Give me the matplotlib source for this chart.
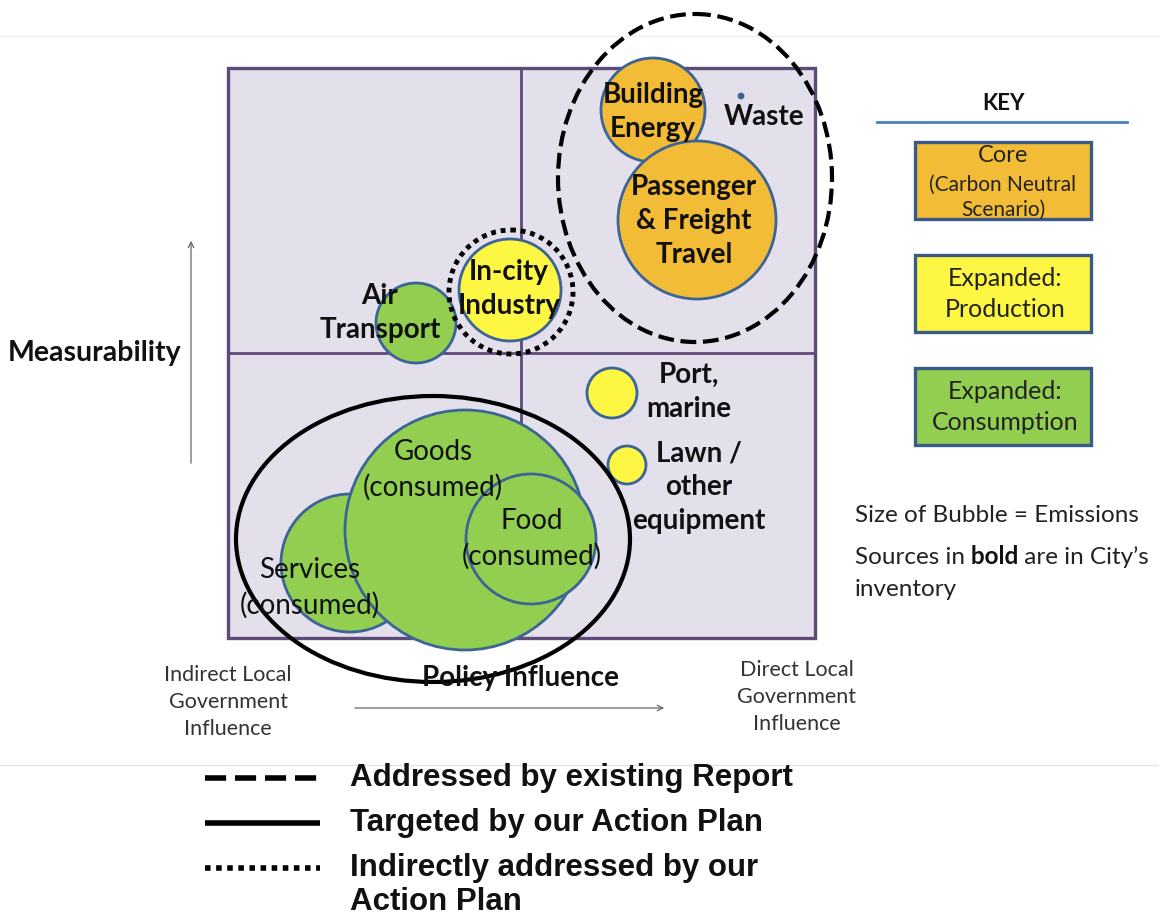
import matplotlib.pyplot as plt
from matplotlib.patches import Circle, Ellipse, Rectangle

plt.rcParams['font.family'] = ['Lato', 'DejaVu Sans']

# canvas is in pixel-like units (x right, y down)
W, H = 1159, 915

# bubbles: label, centre x, centre y, radius, group, bold label, label position
bubble_labels = ['Services\n(consumed)', 'Goods\n(consumed)', 'Food\n(consumed)',
                 'Air\nTransport', 'In-city\nIndustry', 'Port,\nmarine',
                 'Lawn /\nother\nequipment', 'Building\nEnergy', 'Passenger\n& Freight\nTravel', 'Waste']
bubble_x = [350, 465, 531, 416, 510, 612, 627, 653, 697, 741]
bubble_y = [563, 530, 539, 323, 290, 393, 465, 110, 220, 96]
bubble_r = [69, 120, 65, 40, 51, 25, 19, 52, 79, 2]
bubble_group = ['cons', 'cons', 'cons', 'cons', 'prod', 'prod', 'prod', 'core', 'core', 'core']
bubble_bold = [False, False, False, True, True, True, True, True, True, True]
label_x = [310, 433, 532, 380, 509, 689, 699, 653, 694, 764]
label_y = [588, 470, 539, 313, 289, 392, 487, 112, 221, 117]

group_colors = {'core': '#F3BC36', 'prod': '#FDF744', 'cons': '#92CF50'}
key_labels = ['Core\n(Carbon Neutral\nScenario)', 'Expanded:\nProduction', 'Expanded:\nConsumption']
key_groups = ['core', 'prod', 'cons']

legend_labels = ['Addressed by existing Report', 'Targeted by our Action Plan',
                 'Indirectly addressed by our\nAction Plan']
legend_styles = [(0, (3.8, 1.6)), '-', (0, (1, 1))]

fig = plt.figure(figsize=(W / 100, H / 100), dpi=100)
ax = fig.add_axes([0, 0, 1, 1])
ax.set_xlim(0, W)
ax.set_ylim(H, 0)
ax.axis('off')

# faint separators
ax.axhline(36, color='#EEEEEE', lw=1)
ax.axhline(765, color='#E4E4E4', lw=1)

# quadrant grid
x0, x1, xm = 228, 815, 521
y0, y1, ym = 68, 638, 353
ax.add_patch(Rectangle((x0, y0), x1 - x0, y1 - y0, facecolor='#E3DFEB',
                       edgecolor='#5E4A78', lw=2.4, zorder=1))
ax.plot([xm, xm], [y0, y1], color='#5E4A78', lw=2, zorder=1)
ax.plot([x0, x1], [ym, ym], color='#5E4A78', lw=2, zorder=1)

# bubbles
for lab, x, y, r, g, b, lx, ly in zip(bubble_labels, bubble_x, bubble_y, bubble_r,
                                       bubble_group, bubble_bold, label_x, label_y):
    ax.add_patch(Circle((x, y), r, facecolor=group_colors[g] if r > 3 else '#3C6496',
                        edgecolor='#3C6496', lw=2, zorder=2))
    ax.text(lx, ly, lab, ha='center', va='center', fontsize=20,
            fontweight='bold' if b else 'normal', color='#111111',
            linespacing=1.38, zorder=4)

# outline shapes
ax.add_patch(Ellipse((695, 178), 274, 328, fill=False, color='black', lw=3,
                     linestyle=legend_styles[0], zorder=3))
ax.add_patch(Ellipse((433, 539), 394, 286, fill=False, color='black', lw=3,
                     linestyle=legend_styles[1], zorder=3))
ax.add_patch(Circle((511, 292), 62, fill=False, color='black', lw=3.5,
                    linestyle=legend_styles[2], zorder=3))

# axes annotations
ax.text(95, 353, 'Measurability', ha='center', va='center', fontsize=20.5,
        fontweight='bold', color='#111111')
ax.annotate('', xy=(191, 238), xytext=(191, 466),
            arrowprops=dict(arrowstyle='->', color='#666666', lw=0.9))
ax.text(521, 678, 'Policy Influence', ha='center', va='center', fontsize=20,
        fontweight='bold', color='#111111')
ax.annotate('', xy=(667, 708), xytext=(352, 708),
            arrowprops=dict(arrowstyle='->', color='#666666', lw=0.9))
ax.text(228, 702, 'Indirect Local\nGovernment\nInfluence', ha='center', va='center',
        fontsize=15.5, color='#333333', linespacing=1.42)
ax.text(797, 697, 'Direct Local\nGovernment\nInfluence', ha='center', va='center',
        fontsize=15.5, color='#333333', linespacing=1.42)

# key
ax.text(1003, 103, 'KEY', ha='center', va='center', fontsize=16, fontweight='bold',
        color='#111111')
ax.plot([877, 1127], [122, 122], color='#4A7EC2', lw=2)
for i, (lab, g) in enumerate(zip(key_labels, key_groups)):
    top = 142 + i * 113
    ax.add_patch(Rectangle((915, top), 176, 77, facecolor=group_colors[g],
                           edgecolor='#3B5A8A', lw=2.4))
    if g == 'core':
        ax.text(1003, top + 13, 'Core', ha='center', va='center', fontsize=17,
                color='#222222')
        ax.text(1003, top + 55, '(Carbon Neutral\nScenario)', ha='center', va='center',
                fontsize=15, color='#222222', linespacing=1.3)
    else:
        ax.text(1005, top + 39, lab, ha='center', va='center', fontsize=18,
                color='#222222', linespacing=1.42)

ax.text(855, 515, 'Size of Bubble = Emissions', ha='left', va='center', fontsize=17.5,
        color='#222222')
# mixed regular / bold line, pieces chained one after another
t1 = ax.text(855, 558, 'Sources in', ha='left', va='center', fontsize=17.5,
             color='#222222')
t2 = ax.annotate(' bold', xy=(1, 0), xycoords=t1, ha='left', va='bottom',
                 fontsize=17.5, fontweight='bold', color='#111111')
ax.annotate(' are in City\u2019s', xy=(1, 0), xycoords=t2, ha='left', va='bottom',
            fontsize=17.5, color='#222222')
ax.text(855, 589, 'inventory', ha='left', va='center', fontsize=17.5, color='#222222')

# line-style legend
for i, (lab, ls) in enumerate(zip(legend_labels, legend_styles)):
    y = 778 + i * 45
    ax.plot([205, 320], [y, y], color='black', lw=4, linestyle=ls,
            solid_capstyle='butt', dash_capstyle='butt')
    for j, line in enumerate(lab.split('\n')):
        ax.text(350, y + j * 34, line, ha='left', va='center', fontsize=22.5,
                fontweight='bold', family='Liberation Sans', color='#111111')

fig.savefig('out.png', dpi=100)
